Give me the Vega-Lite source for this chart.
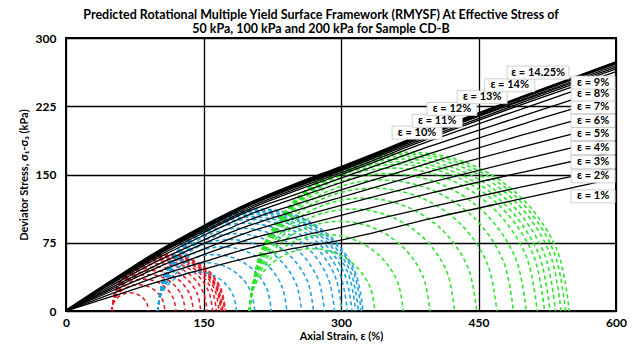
{
  "$schema": "https://vega.github.io/schema/vega-lite/v6.json",
  "width": 550,
  "height": 273,
  "autosize": "none",
  "padding": {"left": 66, "top": 38, "right": 19, "bottom": 35},
  "title": {
    "text": ["Predicted Rotational Multiple Yield Surface Framework (RMYSF) At Effective Stress of", "50 kPa, 100 kPa and 200 kPa for Sample CD-B"],
    "font": "Lato", "fontSize": 12.5, "fontWeight": "bold", "color": "black",
    "anchor": "middle", "frame": "group", "dx": -20, "offset": -3, "lineHeight": 14
  },
  "datasets": {
    "env": [
      {"e":"1%","x":0,"y":0},{"e":"1%","x":50,"y":16},{"e":"1%","x":100,"y":32},{"e":"1%","x":150,"y":46},{"e":"1%","x":200,"y":59},{"e":"1%","x":250,"y":69},{"e":"1%","x":300,"y":78},{"e":"1%","x":400,"y":102},{"e":"1%","x":500,"y":124},{"e":"1%","x":600,"y":146},
      {"e":"2%","x":0,"y":0},{"e":"2%","x":50,"y":19},{"e":"2%","x":100,"y":38},{"e":"2%","x":150,"y":54},{"e":"2%","x":200,"y":69},{"e":"2%","x":250,"y":81},{"e":"2%","x":300,"y":92},{"e":"2%","x":400,"y":115},{"e":"2%","x":500,"y":137},{"e":"2%","x":600,"y":158},
      {"e":"3%","x":0,"y":0},{"e":"3%","x":50,"y":22},{"e":"3%","x":100,"y":43},{"e":"3%","x":150,"y":62},{"e":"3%","x":200,"y":79},{"e":"3%","x":250,"y":92},{"e":"3%","x":300,"y":105},{"e":"3%","x":400,"y":130},{"e":"3%","x":500,"y":153},{"e":"3%","x":600,"y":175},
      {"e":"4%","x":0,"y":0},{"e":"4%","x":50,"y":24},{"e":"4%","x":100,"y":48},{"e":"4%","x":150,"y":68},{"e":"4%","x":200,"y":87},{"e":"4%","x":250,"y":102},{"e":"4%","x":300,"y":116},{"e":"4%","x":400,"y":142},{"e":"4%","x":500,"y":167},{"e":"4%","x":600,"y":191},
      {"e":"5%","x":0,"y":0},{"e":"5%","x":50,"y":26},{"e":"5%","x":100,"y":51},{"e":"5%","x":150,"y":74},{"e":"5%","x":200,"y":94},{"e":"5%","x":250,"y":110},{"e":"5%","x":300,"y":125},{"e":"5%","x":400,"y":154},{"e":"5%","x":500,"y":181},{"e":"5%","x":600,"y":207},
      {"e":"6%","x":0,"y":0},{"e":"6%","x":50,"y":28},{"e":"6%","x":100,"y":55},{"e":"6%","x":150,"y":78},{"e":"6%","x":200,"y":100},{"e":"6%","x":250,"y":117},{"e":"6%","x":300,"y":133},{"e":"6%","x":400,"y":164},{"e":"6%","x":500,"y":194},{"e":"6%","x":600,"y":222},
      {"e":"7%","x":0,"y":0},{"e":"7%","x":50,"y":30},{"e":"7%","x":100,"y":58},{"e":"7%","x":150,"y":83},{"e":"7%","x":200,"y":106},{"e":"7%","x":250,"y":124},{"e":"7%","x":300,"y":141},{"e":"7%","x":400,"y":174},{"e":"7%","x":500,"y":206},{"e":"7%","x":600,"y":236},
      {"e":"8%","x":0,"y":0},{"e":"8%","x":50,"y":31},{"e":"8%","x":100,"y":60},{"e":"8%","x":150,"y":86},{"e":"8%","x":200,"y":110},{"e":"8%","x":250,"y":128},{"e":"8%","x":300,"y":146},{"e":"8%","x":400,"y":182},{"e":"8%","x":500,"y":215},{"e":"8%","x":600,"y":248},
      {"e":"9%","x":0,"y":0},{"e":"9%","x":50,"y":32},{"e":"9%","x":100,"y":62},{"e":"9%","x":150,"y":88},{"e":"9%","x":200,"y":112},{"e":"9%","x":250,"y":132},{"e":"9%","x":300,"y":150},{"e":"9%","x":400,"y":188},{"e":"9%","x":500,"y":223},{"e":"9%","x":600,"y":258},
      {"e":"10%","x":0,"y":0},{"e":"10%","x":50,"y":32},{"e":"10%","x":100,"y":62},{"e":"10%","x":150,"y":90},{"e":"10%","x":200,"y":114},{"e":"10%","x":250,"y":134},{"e":"10%","x":300,"y":152},{"e":"10%","x":400,"y":191},{"e":"10%","x":500,"y":228},{"e":"10%","x":600,"y":263},
      {"e":"11%","x":0,"y":0},{"e":"11%","x":50,"y":32},{"e":"11%","x":100,"y":63},{"e":"11%","x":150,"y":91},{"e":"11%","x":200,"y":116},{"e":"11%","x":250,"y":136},{"e":"11%","x":300,"y":154},{"e":"11%","x":400,"y":193},{"e":"11%","x":500,"y":230},{"e":"11%","x":600,"y":266},
      {"e":"12%","x":0,"y":0},{"e":"12%","x":50,"y":33},{"e":"12%","x":100,"y":64},{"e":"12%","x":150,"y":91},{"e":"12%","x":200,"y":116},{"e":"12%","x":250,"y":136},{"e":"12%","x":300,"y":155},{"e":"12%","x":400,"y":195},{"e":"12%","x":500,"y":232},{"e":"12%","x":600,"y":268},
      {"e":"13%","x":0,"y":0},{"e":"13%","x":50,"y":33},{"e":"13%","x":100,"y":64},{"e":"13%","x":150,"y":92},{"e":"13%","x":200,"y":117},{"e":"13%","x":250,"y":137},{"e":"13%","x":300,"y":156},{"e":"13%","x":400,"y":196},{"e":"13%","x":500,"y":233},{"e":"13%","x":600,"y":270},
      {"e":"14%","x":0,"y":0},{"e":"14%","x":50,"y":33},{"e":"14%","x":100,"y":64},{"e":"14%","x":150,"y":93},{"e":"14%","x":200,"y":118},{"e":"14%","x":250,"y":138},{"e":"14%","x":300,"y":157},{"e":"14%","x":400,"y":197},{"e":"14%","x":500,"y":235},{"e":"14%","x":600,"y":272},
      {"e":"14.25%","x":0,"y":0},{"e":"14.25%","x":50,"y":33},{"e":"14.25%","x":100,"y":65},{"e":"14.25%","x":150,"y":93},{"e":"14.25%","x":200,"y":118},{"e":"14.25%","x":250,"y":139},{"e":"14.25%","x":300,"y":158},{"e":"14.25%","x":400,"y":198},{"e":"14.25%","x":500,"y":236},{"e":"14.25%","x":600,"y":273}
    ],
    "circles": [
      {"id":"R1","c":"R","x":50,"y":0},{"id":"R1","c":"R","x":51.5,"y":7.7},{"id":"R1","c":"R","x":55.9,"y":14.1},{"id":"R1","c":"R","x":62.3,"y":18.5},{"id":"R1","c":"R","x":70,"y":20},{"id":"R1","c":"R","x":77.7,"y":18.5},{"id":"R1","c":"R","x":84.1,"y":14.1},{"id":"R1","c":"R","x":88.5,"y":7.7},{"id":"R1","c":"R","x":90,"y":0},
      {"id":"R2","c":"R","x":50,"y":0},{"id":"R2","c":"R","x":52.2,"y":11.1},{"id":"R2","c":"R","x":58.5,"y":20.5},{"id":"R2","c":"R","x":67.9,"y":26.8},{"id":"R2","c":"R","x":79,"y":29},{"id":"R2","c":"R","x":90.1,"y":26.8},{"id":"R2","c":"R","x":99.5,"y":20.5},{"id":"R2","c":"R","x":105.8,"y":11.1},{"id":"R2","c":"R","x":108,"y":0},
      {"id":"R3","c":"R","x":50,"y":0},{"id":"R3","c":"R","x":52.7,"y":13.4},{"id":"R3","c":"R","x":60.3,"y":24.7},{"id":"R3","c":"R","x":71.6,"y":32.3},{"id":"R3","c":"R","x":85,"y":35},{"id":"R3","c":"R","x":98.4,"y":32.3},{"id":"R3","c":"R","x":109.7,"y":24.7},{"id":"R3","c":"R","x":117.3,"y":13.4},{"id":"R3","c":"R","x":120,"y":0},
      {"id":"R4","c":"R","x":50,"y":0},{"id":"R4","c":"R","x":53,"y":15.3},{"id":"R4","c":"R","x":61.7,"y":28.3},{"id":"R4","c":"R","x":74.7,"y":37},{"id":"R4","c":"R","x":90,"y":40},{"id":"R4","c":"R","x":105.3,"y":37},{"id":"R4","c":"R","x":118.3,"y":28.3},{"id":"R4","c":"R","x":127,"y":15.3},{"id":"R4","c":"R","x":130,"y":0},
      {"id":"R5","c":"R","x":50,"y":0},{"id":"R5","c":"R","x":53.4,"y":17},{"id":"R5","c":"R","x":63,"y":31.5},{"id":"R5","c":"R","x":77.5,"y":41.1},{"id":"R5","c":"R","x":94.5,"y":44.5},{"id":"R5","c":"R","x":111.5,"y":41.1},{"id":"R5","c":"R","x":126,"y":31.5},{"id":"R5","c":"R","x":135.6,"y":17},{"id":"R5","c":"R","x":139,"y":0},
      {"id":"R6","c":"R","x":50,"y":0},{"id":"R6","c":"R","x":53.7,"y":18.6},{"id":"R6","c":"R","x":64.2,"y":34.3},{"id":"R6","c":"R","x":79.9,"y":44.8},{"id":"R6","c":"R","x":98.5,"y":48.5},{"id":"R6","c":"R","x":117.1,"y":44.8},{"id":"R6","c":"R","x":132.8,"y":34.3},{"id":"R6","c":"R","x":143.3,"y":18.6},{"id":"R6","c":"R","x":147,"y":0},
      {"id":"R7","c":"R","x":50,"y":0},{"id":"R7","c":"R","x":54,"y":19.9},{"id":"R7","c":"R","x":65.2,"y":36.8},{"id":"R7","c":"R","x":82.1,"y":48},{"id":"R7","c":"R","x":102,"y":52},{"id":"R7","c":"R","x":121.9,"y":48},{"id":"R7","c":"R","x":138.8,"y":36.8},{"id":"R7","c":"R","x":150,"y":19.9},{"id":"R7","c":"R","x":154,"y":0},
      {"id":"R8","c":"R","x":50,"y":0},{"id":"R8","c":"R","x":54.2,"y":21},{"id":"R8","c":"R","x":66.1,"y":38.9},{"id":"R8","c":"R","x":84,"y":50.8},{"id":"R8","c":"R","x":105,"y":55},{"id":"R8","c":"R","x":126.1,"y":50.8},{"id":"R8","c":"R","x":143.9,"y":38.9},{"id":"R8","c":"R","x":155.8,"y":21},{"id":"R8","c":"R","x":160,"y":0},
      {"id":"R9","c":"R","x":50,"y":0},{"id":"R9","c":"R","x":54.3,"y":21.8},{"id":"R9","c":"R","x":66.7,"y":40.3},{"id":"R9","c":"R","x":85.2,"y":52.7},{"id":"R9","c":"R","x":107,"y":57},{"id":"R9","c":"R","x":128.8,"y":52.7},{"id":"R9","c":"R","x":147.3,"y":40.3},{"id":"R9","c":"R","x":159.7,"y":21.8},{"id":"R9","c":"R","x":164,"y":0},
      {"id":"R10","c":"R","x":50,"y":0},{"id":"R10","c":"R","x":54.5,"y":22.4},{"id":"R10","c":"R","x":67.1,"y":41.4},{"id":"R10","c":"R","x":86.1,"y":54},{"id":"R10","c":"R","x":108.5,"y":58.5},{"id":"R10","c":"R","x":130.9,"y":54},{"id":"R10","c":"R","x":149.9,"y":41.4},{"id":"R10","c":"R","x":162.6,"y":22.4},{"id":"R10","c":"R","x":167,"y":0},
      {"id":"R11","c":"R","x":50,"y":0},{"id":"R11","c":"R","x":54.5,"y":22.8},{"id":"R11","c":"R","x":67.4,"y":42.1},{"id":"R11","c":"R","x":86.7,"y":55},{"id":"R11","c":"R","x":109.5,"y":59.5},{"id":"R11","c":"R","x":132.3,"y":55},{"id":"R11","c":"R","x":151.6,"y":42.1},{"id":"R11","c":"R","x":164.5,"y":22.8},{"id":"R11","c":"R","x":169,"y":0},
      {"id":"R12","c":"R","x":50,"y":0},{"id":"R12","c":"R","x":54.6,"y":23},{"id":"R12","c":"R","x":67.6,"y":42.4},{"id":"R12","c":"R","x":87,"y":55.4},{"id":"R12","c":"R","x":110,"y":60},{"id":"R12","c":"R","x":133,"y":55.4},{"id":"R12","c":"R","x":152.4,"y":42.4},{"id":"R12","c":"R","x":165.4,"y":23},{"id":"R12","c":"R","x":170,"y":0},
      {"id":"R13","c":"R","x":50,"y":0},{"id":"R13","c":"R","x":54.6,"y":23.2},{"id":"R13","c":"R","x":67.7,"y":42.8},{"id":"R13","c":"R","x":87.3,"y":55.9},{"id":"R13","c":"R","x":110.5,"y":60.5},{"id":"R13","c":"R","x":133.7,"y":55.9},{"id":"R13","c":"R","x":153.3,"y":42.8},{"id":"R13","c":"R","x":166.4,"y":23.2},{"id":"R13","c":"R","x":171,"y":0},
      {"id":"R14","c":"R","x":50,"y":0},{"id":"R14","c":"R","x":54.7,"y":23.5},{"id":"R14","c":"R","x":68,"y":43.5},{"id":"R14","c":"R","x":88,"y":56.8},{"id":"R14","c":"R","x":111.5,"y":61.5},{"id":"R14","c":"R","x":135,"y":56.8},{"id":"R14","c":"R","x":155,"y":43.5},{"id":"R14","c":"R","x":168.3,"y":23.5},{"id":"R14","c":"R","x":173,"y":0},
      {"id":"R15","c":"R","x":50,"y":0},{"id":"R15","c":"R","x":54.7,"y":23.7},{"id":"R15","c":"R","x":68.2,"y":43.8},{"id":"R15","c":"R","x":88.3,"y":57.3},{"id":"R15","c":"R","x":112,"y":62},{"id":"R15","c":"R","x":135.7,"y":57.3},{"id":"R15","c":"R","x":155.8,"y":43.8},{"id":"R15","c":"R","x":169.3,"y":23.7},{"id":"R15","c":"R","x":174,"y":0},
      {"id":"B1","c":"B","x":100,"y":0},{"id":"B1","c":"B","x":103.3,"y":16.5},{"id":"B1","c":"B","x":112.6,"y":30.4},{"id":"B1","c":"B","x":126.5,"y":39.7},{"id":"B1","c":"B","x":143,"y":43},{"id":"B1","c":"B","x":159.5,"y":39.7},{"id":"B1","c":"B","x":173.4,"y":30.4},{"id":"B1","c":"B","x":182.7,"y":16.5},{"id":"B1","c":"B","x":186,"y":0},
      {"id":"B2","c":"B","x":100,"y":0},{"id":"B2","c":"B","x":104,"y":20.3},{"id":"B2","c":"B","x":115.5,"y":37.5},{"id":"B2","c":"B","x":132.7,"y":49},{"id":"B2","c":"B","x":153,"y":53},{"id":"B2","c":"B","x":173.3,"y":49},{"id":"B2","c":"B","x":190.5,"y":37.5},{"id":"B2","c":"B","x":202,"y":20.3},{"id":"B2","c":"B","x":206,"y":0},
      {"id":"B3","c":"B","x":100,"y":0},{"id":"B3","c":"B","x":104.7,"y":23.7},{"id":"B3","c":"B","x":118.2,"y":43.8},{"id":"B3","c":"B","x":138.3,"y":57.3},{"id":"B3","c":"B","x":162,"y":62},{"id":"B3","c":"B","x":185.7,"y":57.3},{"id":"B3","c":"B","x":205.8,"y":43.8},{"id":"B3","c":"B","x":219.3,"y":23.7},{"id":"B3","c":"B","x":224,"y":0},
      {"id":"B4","c":"B","x":100,"y":0},{"id":"B4","c":"B","x":105.4,"y":27},{"id":"B4","c":"B","x":120.6,"y":49.9},{"id":"B4","c":"B","x":143.5,"y":65.1},{"id":"B4","c":"B","x":170.5,"y":70.5},{"id":"B4","c":"B","x":197.5,"y":65.1},{"id":"B4","c":"B","x":220.4,"y":49.9},{"id":"B4","c":"B","x":235.6,"y":27},{"id":"B4","c":"B","x":241,"y":0},
      {"id":"B5","c":"B","x":100,"y":0},{"id":"B5","c":"B","x":106,"y":30},{"id":"B5","c":"B","x":123,"y":55.5},{"id":"B5","c":"B","x":148.5,"y":72.5},{"id":"B5","c":"B","x":178.5,"y":78.5},{"id":"B5","c":"B","x":208.5,"y":72.5},{"id":"B5","c":"B","x":234,"y":55.5},{"id":"B5","c":"B","x":251,"y":30},{"id":"B5","c":"B","x":257,"y":0},
      {"id":"B6","c":"B","x":100,"y":0},{"id":"B6","c":"B","x":106.5,"y":32.5},{"id":"B6","c":"B","x":124.9,"y":60.1},{"id":"B6","c":"B","x":152.5,"y":78.5},{"id":"B6","c":"B","x":185,"y":85},{"id":"B6","c":"B","x":217.5,"y":78.5},{"id":"B6","c":"B","x":245.1,"y":60.1},{"id":"B6","c":"B","x":263.5,"y":32.5},{"id":"B6","c":"B","x":270,"y":0},
      {"id":"B7","c":"B","x":100,"y":0},{"id":"B7","c":"B","x":106.9,"y":34.8},{"id":"B7","c":"B","x":126.7,"y":64.3},{"id":"B7","c":"B","x":156.2,"y":84.1},{"id":"B7","c":"B","x":191,"y":91},{"id":"B7","c":"B","x":225.8,"y":84.1},{"id":"B7","c":"B","x":255.4,"y":64.3},{"id":"B7","c":"B","x":275.1,"y":34.8},{"id":"B7","c":"B","x":282,"y":0},
      {"id":"B8","c":"B","x":100,"y":0},{"id":"B8","c":"B","x":107.3,"y":36.9},{"id":"B8","c":"B","x":128.3,"y":68.2},{"id":"B8","c":"B","x":159.6,"y":89.2},{"id":"B8","c":"B","x":196.5,"y":96.5},{"id":"B8","c":"B","x":233.4,"y":89.2},{"id":"B8","c":"B","x":264.7,"y":68.2},{"id":"B8","c":"B","x":285.7,"y":36.9},{"id":"B8","c":"B","x":293,"y":0},
      {"id":"B9","c":"B","x":100,"y":0},{"id":"B9","c":"B","x":107.6,"y":38.5},{"id":"B9","c":"B","x":129.4,"y":71.1},{"id":"B9","c":"B","x":162,"y":92.9},{"id":"B9","c":"B","x":200.5,"y":100.5},{"id":"B9","c":"B","x":239,"y":92.9},{"id":"B9","c":"B","x":271.6,"y":71.1},{"id":"B9","c":"B","x":293.4,"y":38.5},{"id":"B9","c":"B","x":301,"y":0},
      {"id":"B10","c":"B","x":100,"y":0},{"id":"B10","c":"B","x":107.9,"y":39.6},{"id":"B10","c":"B","x":130.3,"y":73.2},{"id":"B10","c":"B","x":163.9,"y":95.6},{"id":"B10","c":"B","x":203.5,"y":103.5},{"id":"B10","c":"B","x":243.1,"y":95.6},{"id":"B10","c":"B","x":276.7,"y":73.2},{"id":"B10","c":"B","x":299.1,"y":39.6},{"id":"B10","c":"B","x":307,"y":0},
      {"id":"B11","c":"B","x":100,"y":0},{"id":"B11","c":"B","x":108.1,"y":40.6},{"id":"B11","c":"B","x":131,"y":75},{"id":"B11","c":"B","x":165.4,"y":97.9},{"id":"B11","c":"B","x":206,"y":106},{"id":"B11","c":"B","x":246.6,"y":97.9},{"id":"B11","c":"B","x":281,"y":75},{"id":"B11","c":"B","x":303.9,"y":40.6},{"id":"B11","c":"B","x":312,"y":0},
      {"id":"B12","c":"B","x":100,"y":0},{"id":"B12","c":"B","x":108.2,"y":41.3},{"id":"B12","c":"B","x":131.6,"y":76.4},{"id":"B12","c":"B","x":166.7,"y":99.8},{"id":"B12","c":"B","x":208,"y":108},{"id":"B12","c":"B","x":249.3,"y":99.8},{"id":"B12","c":"B","x":284.4,"y":76.4},{"id":"B12","c":"B","x":307.8,"y":41.3},{"id":"B12","c":"B","x":316,"y":0},
      {"id":"B13","c":"B","x":100,"y":0},{"id":"B13","c":"B","x":108.3,"y":41.9},{"id":"B13","c":"B","x":132.1,"y":77.4},{"id":"B13","c":"B","x":167.6,"y":101.2},{"id":"B13","c":"B","x":209.5,"y":109.5},{"id":"B13","c":"B","x":251.4,"y":101.2},{"id":"B13","c":"B","x":286.9,"y":77.4},{"id":"B13","c":"B","x":310.7,"y":41.9},{"id":"B13","c":"B","x":319,"y":0},
      {"id":"B14","c":"B","x":100,"y":0},{"id":"B14","c":"B","x":108.4,"y":42.5},{"id":"B14","c":"B","x":132.5,"y":78.5},{"id":"B14","c":"B","x":168.5,"y":102.6},{"id":"B14","c":"B","x":211,"y":111},{"id":"B14","c":"B","x":253.5,"y":102.6},{"id":"B14","c":"B","x":289.5,"y":78.5},{"id":"B14","c":"B","x":313.6,"y":42.5},{"id":"B14","c":"B","x":322,"y":0},
      {"id":"B15","c":"B","x":100,"y":0},{"id":"B15","c":"B","x":108.5,"y":42.9},{"id":"B15","c":"B","x":132.8,"y":79.2},{"id":"B15","c":"B","x":169.1,"y":103.5},{"id":"B15","c":"B","x":212,"y":112},{"id":"B15","c":"B","x":254.9,"y":103.5},{"id":"B15","c":"B","x":291.2,"y":79.2},{"id":"B15","c":"B","x":315.5,"y":42.9},{"id":"B15","c":"B","x":324,"y":0},
      {"id":"G1","c":"G","x":200,"y":0},{"id":"G1","c":"G","x":205.2,"y":26.2},{"id":"G1","c":"G","x":220.1,"y":48.4},{"id":"G1","c":"G","x":242.3,"y":63.3},{"id":"G1","c":"G","x":268.5,"y":68.5},{"id":"G1","c":"G","x":294.7,"y":63.3},{"id":"G1","c":"G","x":316.9,"y":48.4},{"id":"G1","c":"G","x":331.8,"y":26.2},{"id":"G1","c":"G","x":337,"y":0},
      {"id":"G2","c":"G","x":200,"y":0},{"id":"G2","c":"G","x":206.4,"y":32.1},{"id":"G2","c":"G","x":224.6,"y":59.4},{"id":"G2","c":"G","x":251.9,"y":77.6},{"id":"G2","c":"G","x":284,"y":84},{"id":"G2","c":"G","x":316.1,"y":77.6},{"id":"G2","c":"G","x":343.4,"y":59.4},{"id":"G2","c":"G","x":361.6,"y":32.1},{"id":"G2","c":"G","x":368,"y":0},
      {"id":"G3","c":"G","x":200,"y":0},{"id":"G3","c":"G","x":207.5,"y":37.7},{"id":"G3","c":"G","x":228.9,"y":69.6},{"id":"G3","c":"G","x":260.8,"y":91},{"id":"G3","c":"G","x":298.5,"y":98.5},{"id":"G3","c":"G","x":336.2,"y":91},{"id":"G3","c":"G","x":368.2,"y":69.6},{"id":"G3","c":"G","x":389.5,"y":37.7},{"id":"G3","c":"G","x":397,"y":0},
      {"id":"G4","c":"G","x":200,"y":0},{"id":"G4","c":"G","x":208.5,"y":42.9},{"id":"G4","c":"G","x":232.8,"y":79.2},{"id":"G4","c":"G","x":269.1,"y":103.5},{"id":"G4","c":"G","x":312,"y":112},{"id":"G4","c":"G","x":354.9,"y":103.5},{"id":"G4","c":"G","x":391.2,"y":79.2},{"id":"G4","c":"G","x":415.5,"y":42.9},{"id":"G4","c":"G","x":424,"y":0},
      {"id":"G5","c":"G","x":200,"y":0},{"id":"G5","c":"G","x":209.4,"y":47.5},{"id":"G5","c":"G","x":236.3,"y":87.7},{"id":"G5","c":"G","x":276.5,"y":114.6},{"id":"G5","c":"G","x":324,"y":124},{"id":"G5","c":"G","x":371.5,"y":114.6},{"id":"G5","c":"G","x":411.7,"y":87.7},{"id":"G5","c":"G","x":438.6,"y":47.5},{"id":"G5","c":"G","x":448,"y":0},
      {"id":"G6","c":"G","x":200,"y":0},{"id":"G6","c":"G","x":210.3,"y":51.7},{"id":"G6","c":"G","x":239.5,"y":95.5},{"id":"G6","c":"G","x":283.3,"y":124.7},{"id":"G6","c":"G","x":335,"y":135},{"id":"G6","c":"G","x":386.7,"y":124.7},{"id":"G6","c":"G","x":430.5,"y":95.5},{"id":"G6","c":"G","x":459.7,"y":51.7},{"id":"G6","c":"G","x":470,"y":0},
      {"id":"G7","c":"G","x":200,"y":0},{"id":"G7","c":"G","x":211,"y":55.1},{"id":"G7","c":"G","x":242.2,"y":101.8},{"id":"G7","c":"G","x":288.9,"y":133},{"id":"G7","c":"G","x":344,"y":144},{"id":"G7","c":"G","x":399.1,"y":133},{"id":"G7","c":"G","x":445.8,"y":101.8},{"id":"G7","c":"G","x":477,"y":55.1},{"id":"G7","c":"G","x":488,"y":0},
      {"id":"G8","c":"G","x":200,"y":0},{"id":"G8","c":"G","x":211.5,"y":57.8},{"id":"G8","c":"G","x":244.2,"y":106.8},{"id":"G8","c":"G","x":293.2,"y":139.5},{"id":"G8","c":"G","x":351,"y":151},{"id":"G8","c":"G","x":408.8,"y":139.5},{"id":"G8","c":"G","x":457.8,"y":106.8},{"id":"G8","c":"G","x":490.5,"y":57.8},{"id":"G8","c":"G","x":502,"y":0},
      {"id":"G9","c":"G","x":200,"y":0},{"id":"G9","c":"G","x":212,"y":60.1},{"id":"G9","c":"G","x":246,"y":111},{"id":"G9","c":"G","x":296.9,"y":145.1},{"id":"G9","c":"G","x":357,"y":157},{"id":"G9","c":"G","x":417.1,"y":145.1},{"id":"G9","c":"G","x":468,"y":111},{"id":"G9","c":"G","x":502.1,"y":60.1},{"id":"G9","c":"G","x":514,"y":0},
      {"id":"G10","c":"G","x":200,"y":0},{"id":"G10","c":"G","x":212.3,"y":61.6},{"id":"G10","c":"G","x":247.2,"y":113.8},{"id":"G10","c":"G","x":299.4,"y":148.7},{"id":"G10","c":"G","x":361,"y":161},{"id":"G10","c":"G","x":422.6,"y":148.7},{"id":"G10","c":"G","x":474.8,"y":113.8},{"id":"G10","c":"G","x":509.8,"y":61.6},{"id":"G10","c":"G","x":522,"y":0},
      {"id":"G11","c":"G","x":200,"y":0},{"id":"G11","c":"G","x":212.5,"y":62.8},{"id":"G11","c":"G","x":248,"y":116},{"id":"G11","c":"G","x":301.2,"y":151.5},{"id":"G11","c":"G","x":364,"y":164},{"id":"G11","c":"G","x":426.8,"y":151.5},{"id":"G11","c":"G","x":480,"y":116},{"id":"G11","c":"G","x":515.5,"y":62.8},{"id":"G11","c":"G","x":528,"y":0},
      {"id":"G12","c":"G","x":200,"y":0},{"id":"G12","c":"G","x":212.7,"y":63.9},{"id":"G12","c":"G","x":248.9,"y":118.1},{"id":"G12","c":"G","x":303.1,"y":154.3},{"id":"G12","c":"G","x":367,"y":167},{"id":"G12","c":"G","x":430.9,"y":154.3},{"id":"G12","c":"G","x":485.1,"y":118.1},{"id":"G12","c":"G","x":521.3,"y":63.9},{"id":"G12","c":"G","x":534,"y":0},
      {"id":"G13","c":"G","x":200,"y":0},{"id":"G13","c":"G","x":212.9,"y":65.1},{"id":"G13","c":"G","x":249.8,"y":120.2},{"id":"G13","c":"G","x":304.9,"y":157.1},{"id":"G13","c":"G","x":370,"y":170},{"id":"G13","c":"G","x":435.1,"y":157.1},{"id":"G13","c":"G","x":490.2,"y":120.2},{"id":"G13","c":"G","x":527.1,"y":65.1},{"id":"G13","c":"G","x":540,"y":0},
      {"id":"G14","c":"G","x":200,"y":0},{"id":"G14","c":"G","x":213.1,"y":66},{"id":"G14","c":"G","x":250.5,"y":122},{"id":"G14","c":"G","x":306.5,"y":159.4},{"id":"G14","c":"G","x":372.5,"y":172.5},{"id":"G14","c":"G","x":438.5,"y":159.4},{"id":"G14","c":"G","x":494.5,"y":122},{"id":"G14","c":"G","x":531.9,"y":66},{"id":"G14","c":"G","x":545,"y":0},
      {"id":"G15","c":"G","x":200,"y":0},{"id":"G15","c":"G","x":213.3,"y":66.8},{"id":"G15","c":"G","x":251.1,"y":123.4},{"id":"G15","c":"G","x":307.7,"y":161.2},{"id":"G15","c":"G","x":374.5,"y":174.5},{"id":"G15","c":"G","x":441.3,"y":161.2},{"id":"G15","c":"G","x":497.9,"y":123.4},{"id":"G15","c":"G","x":535.7,"y":66.8},{"id":"G15","c":"G","x":549,"y":0}
    ],
    "labels": [
      {"t":"ε = 1%","x":575,"y":126},
      {"t":"ε = 2%","x":575,"y":148},
      {"t":"ε = 3%","x":575,"y":163.5},
      {"t":"ε = 4%","x":575,"y":179},
      {"t":"ε = 5%","x":575,"y":194.5},
      {"t":"ε = 6%","x":575,"y":209},
      {"t":"ε = 7%","x":575,"y":224},
      {"t":"ε = 8%","x":575,"y":238},
      {"t":"ε = 9%","x":575,"y":251},
      {"t":"ε = 10%","x":383,"y":196},
      {"t":"ε = 11%","x":405,"y":209},
      {"t":"ε = 12%","x":421,"y":222},
      {"t":"ε = 13%","x":454,"y":235},
      {"t":"ε = 14%","x":484,"y":248},
      {"t":"ε = 14.25%","x":515,"y":262}
    ]
  },
  "layer": [
    {
      "data": {"name": "circles"},
      "mark": {"type": "line", "strokeDash": [4, 3], "strokeWidth": 1.6, "interpolate": "catmull-rom"},
      "encoding": {
        "x": {"field": "x", "type": "quantitative", "scale": {"domain": [0, 600], "nice": false},
              "axis": {"values": [0, 150, 300, 450, 600], "title": "Axial Strain, ε (%)", "labelPadding": 6, "titlePadding": 2}},
        "y": {"field": "y", "type": "quantitative", "scale": {"domain": [0, 300], "nice": false},
              "axis": {"values": [0, 75, 150, 225, 300], "title": "Deviator Stress, σ₁-σ₃ (kPa)", "labelPadding": 10, "titlePadding": 6}},
        "color": {"field": "c", "type": "nominal", "scale": {"domain": ["R", "B", "G"], "range": ["#e3232e", "#22a3dc", "#2fe42f"]}, "legend": null},
        "detail": {"field": "id"}
      }
    },
    {
      "data": {"name": "env"},
      "mark": {"type": "line", "interpolate": "monotone", "color": "black"},
      "encoding": {
        "x": {"field": "x", "type": "quantitative"},
        "y": {"field": "y", "type": "quantitative"},
        "detail": {"field": "e"},
        "strokeWidth": {"condition": {"test": "datum.e == '14.25%'", "value": 2.8}, "value": 1.3}
      }
    },
    {
      "data": {"name": "labels"},
      "mark": {"type": "point", "fill": "white", "stroke": "#c4c4c4", "strokeWidth": 0.8, "size": 400, "opacity": 1, "fillOpacity": 1, "strokeOpacity": 1},
      "encoding": {
        "x": {"field": "x", "type": "quantitative"},
        "y": {"field": "y", "type": "quantitative"},
        "shape": {"condition": [
          {"test": "length(datum.t) > 8", "value": "M-3.1,-0.65H3.1V0.65H-3.1Z"},
          {"test": "length(datum.t) > 6", "value": "M-2.5,-0.65H2.5V0.65H-2.5Z"}],
          "value": "M-2.2,-0.65H2.2V0.65H-2.2Z"}
      }
    },
    {
      "data": {"name": "labels"},
      "mark": {"type": "text", "font": "Lato", "fontSize": 11, "fontWeight": "bold", "color": "black", "align": "center", "baseline": "middle"},
      "encoding": {
        "x": {"field": "x", "type": "quantitative"},
        "y": {"field": "y", "type": "quantitative"},
        "text": {"field": "t"}
      }
    }
  ],
  "config": {
    "font": "Lato",
    "view": {"stroke": "black", "strokeWidth": 2},
    "axis": {
      "grid": true, "gridColor": "black", "gridOpacity": 1, "gridWidth": 1.3,
      "domain": false, "ticks": false,
      "labelFont": "Lato", "labelFontSize": 12, "labelFontWeight": "bold", "labelColor": "black",
      "labelFlush": false, "labelOverlap": false,
      "titleFont": "Lato", "titleFontSize": 11, "titleFontWeight": "bold", "titleColor": "black"
    }
  }
}
